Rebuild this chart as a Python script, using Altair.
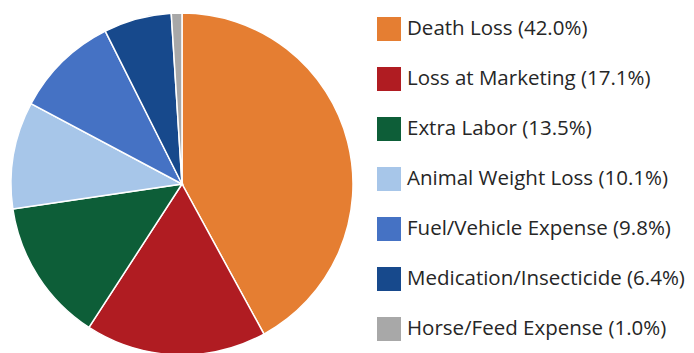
import altair as alt
import pandas as pd

categories = [
    "Death Loss",
    "Loss at Marketing",
    "Extra Labor",
    "Animal Weight Loss",
    "Fuel/Vehicle Expense",
    "Medication/Insecticide",
    "Horse/Feed Expense",
]
shares = [42.0, 17.1, 13.5, 10.1, 9.8, 6.4, 1.0]
colors = ["#E57E32", "#B01C22", "#0D5E38", "#A7C6E9", "#4572C4", "#17498C", "#A8A8A8"]

labels = [f"{c} ({v:.1f}%)" for c, v in zip(categories, shares)]
df = pd.DataFrame({"label": labels, "share": shares, "idx": list(range(len(labels)))})

chart = alt.Chart(df).mark_arc(
    stroke="white", strokeWidth=1.5, radius=171
).encode(
    x=alt.value(182),
    y=alt.value(184),
    theta=alt.Theta("share:Q", stack=True),
    order=alt.Order("idx:Q"),
    color=alt.Color(
        "label:N",
        scale=alt.Scale(domain=labels, range=colors),
        legend=alt.Legend(
            title=None,
            orient="none",
            legendX=377,
            legendY=17,
            symbolType="square",
            symbolSize=576,
            symbolStrokeWidth=0,
            labelFont="Open Sans",
            labelFontSize=20.5,
            labelColor="#262626",
            labelOffset=6,
            labelLimit=400,
            rowPadding=26,
            padding=0,
            offset=0,
        ),
    ),
).properties(
    width=694, height=353, padding=0, autosize=alt.AutoSizeParams(type="none")
).configure_view(stroke=None)

chart.save("out.html", embed_options={"renderer": "svg", "actions": False})
